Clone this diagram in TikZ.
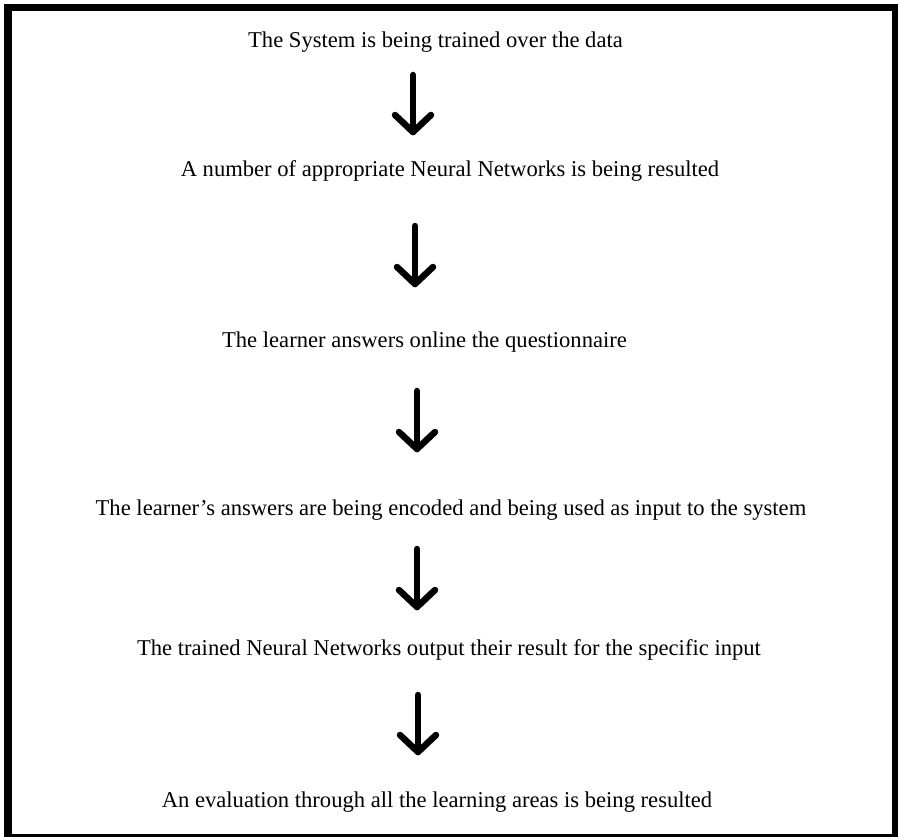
\documentclass[tikz,border=0pt]{standalone}
\usepackage{fontspec}
\setmainfont{Liberation Serif}
\tikzset{
  x=1pt, y=-1pt,
  steptext/.style={anchor=base, inner sep=0pt, font=\fontsize{22.6}{27}\selectfont},
  downarrow/.style={line width=6.5pt, line cap=round, line join=round, black}
}
\begin{document}
\begin{tikzpicture}
\useasboundingbox (0,0) rectangle (898,837);
% frame
\fill[black] (4,4) rectangle (898,837);
\fill[white] (12,11) rectangle (892,834);
% texts
\node[steptext] (t1) at (435.5,48) {The System is being trained over the data};
\node[steptext] (t2) at (450,177) {A number of appropriate Neural Networks is being resulted};
\node[steptext] (t3) at (424.5,348) {The learner answers online the questionnaire};
\node[steptext] (t4) at (451,515) {The learner’s answers are being encoded and being used as input to the system};
\node[steptext] (t5) at (449,655) {The trained Neural Networks output their result for the specific input};
\node[steptext] (t6) at (437,807) {An evaluation through all the learning areas is being resulted};
% arrow coordinates
\coordinate (a1s) at (413,75);  \coordinate (a1e) at (413,132);
\coordinate (a2s) at (415,226); \coordinate (a2e) at (415,284);
\coordinate (a3s) at (417,391); \coordinate (a3e) at (417,449);
\coordinate (a4s) at (417,549); \coordinate (a4e) at (417,607);
\coordinate (a5s) at (418,695); \coordinate (a5e) at (418,752);
\foreach \i in {1,...,5}{
  \draw[downarrow] (a\i s) -- (a\i e);
  \draw[downarrow] (a\i e) ++(-18,-17) -- (a\i e) -- ++(18,-17);
}
\end{tikzpicture}
\end{document}
